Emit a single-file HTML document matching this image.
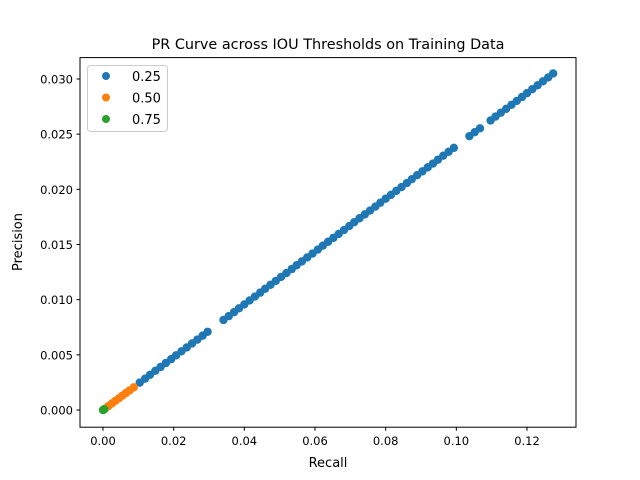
<!DOCTYPE html>
<html><head><meta charset="utf-8"><style>
html,body{margin:0;padding:0;background:#fff;}
svg{display:block;font-family:"DejaVu Sans","Liberation Sans",sans-serif;}
</style></head><body>
<svg id="chart" width="640" height="480" xmlns="http://www.w3.org/2000/svg">
<rect width="640" height="480" fill="#fff"/>
<text x="328" y="49" font-size="14.4" text-anchor="middle">PR Curve across IOU Thresholds on Training Data</text>
<g id="marks"></g>
<rect x="80" y="57.6" width="496" height="369.6" fill="none" stroke="#000" stroke-width="1"/>
<g id="xticks"></g><g id="yticks"></g>
<text x="328" y="467" font-size="13" text-anchor="middle">Recall</text>
<text transform="translate(22,242) rotate(-90)" font-size="13" text-anchor="middle">Precision</text>
<g>
<rect x="87.5" y="65.5" width="80" height="66" rx="3" fill="#fff" fill-opacity="0.8" stroke="#ccc"/>
<circle cx="106" cy="76" r="4" fill="#1f77b4"/><text x="132" y="81" font-size="13">0.25</text>
<circle cx="106" cy="97.5" r="4" fill="#ff7f0e"/><text x="132" y="102.5" font-size="13">0.50</text>
<circle cx="106" cy="119" r="4" fill="#2ca02c"/><text x="132" y="124" font-size="13">0.75</text>
</g>
</svg>
<script>
const xTicks=[0,0.02,0.04,0.06,0.08,0.10,0.12];
const xTickLabels=["0.00","0.02","0.04","0.06","0.08","0.10","0.12"];
const yTicks=[0,0.005,0.010,0.015,0.020,0.025,0.030];
const yTickLabels=["0.000","0.005","0.010","0.015","0.020","0.025","0.030"];
const recall25=[0.0104,0.0119,0.0133,0.0148,0.0163,0.0178,0.0193,0.0207,0.0222,0.0237,0.0252,0.0267,0.0282,0.0296,
0.0341,0.0356,0.0371,0.0385,0.0400,0.0415,0.0430,0.0445,0.0459,0.0474,0.0489,0.0504,0.0519,0.0534,0.0548,0.0563,0.0578,0.0593,0.0608,0.0622,0.0637,0.0652,0.0667,0.0682,0.0697,0.0711,0.0726,0.0741,0.0756,0.0771,0.0785,0.0800,0.0815,0.0830,0.0845,0.0860,0.0874,0.0889,0.0904,0.0919,0.0934,0.0948,0.0963,0.0978,0.0993,
0.1037,0.1052,0.1067,
0.1097,0.1111,0.1126,0.1141,0.1156,0.1171,0.1186,0.1200,0.1215,0.1230,0.1245,0.1260,0.1274];
const precision25=[0.00248,0.00284,0.00319,0.00355,0.00390,0.00426,0.00461,0.00496,0.00532,0.00567,0.00603,0.00638,0.00674,0.00709,
0.00816,0.00851,0.00887,0.00922,0.00957,0.00993,0.01028,0.01064,0.01099,0.01135,0.01170,0.01206,0.01241,0.01277,0.01312,0.01347,0.01383,0.01418,0.01454,0.01489,0.01525,0.01560,0.01596,0.01631,0.01667,0.01702,0.01738,0.01773,0.01808,0.01844,0.01879,0.01915,0.01950,0.01986,0.02021,0.02057,0.02092,0.02128,0.02163,0.02199,0.02234,0.02269,0.02305,0.02340,0.02376,
0.02482,0.02518,0.02553,
0.02624,0.02660,0.02695,0.02730,0.02766,0.02801,0.02837,0.02872,0.02908,0.02943,0.02979,0.03014,0.03050];
const recall50=[0.0005,0.0015,0.0025,0.0035,0.0045,0.0055,0.0065,0.0075,0.0087];
const precision50=[0.00012,0.00035,0.00059,0.00083,0.00106,0.00130,0.00154,0.00177,0.00205];
const recall75=[0,0.0002,0.0004];
const precision75=[0,0.00003,0.00006];

const NS="http://www.w3.org/2000/svg";
const X0=103,PX=(527-103)/0.12;
const Y0=410,PY=(410-79)/0.030;
function sx(v){return X0+v*PX;}
function sy(v){return Y0-v*PY;}
const marks=document.getElementById('marks');
function series(xs,ys,color,name){
  const g=document.createElementNS(NS,'g');
  
  
  for(let i=0;i<xs.length;i++){
    const c=document.createElementNS(NS,'circle');
    
    
    c.setAttribute('cx',sx(xs[i]));c.setAttribute('cy',sy(ys[i]));
    c.setAttribute('r',4.2);c.setAttribute('fill',color);
    g.appendChild(c);
  }
  marks.appendChild(g);
}
series(recall25,precision25,'#1f77b4','series-0.25');
series(recall50,precision50,'#ff7f0e','series-0.50');
series(recall75,precision75,'#2ca02c','series-0.75');
const xt=document.getElementById('xticks');
xTicks.forEach((v,i)=>{
  const l=document.createElementNS(NS,'line');
  
  
  l.setAttribute('x1',sx(v));l.setAttribute('x2',sx(v));l.setAttribute('y1',427.2);l.setAttribute('y2',430.7);l.setAttribute('stroke','#000');
  xt.appendChild(l);
  const t=document.createElementNS(NS,'text');
  
  
  t.setAttribute('x',sx(v));t.setAttribute('y',445);t.setAttribute('font-size','11.5');t.setAttribute('text-anchor','middle');
  t.textContent=xTickLabels[i];xt.appendChild(t);
});
const yt=document.getElementById('yticks');
yTicks.forEach((v,i)=>{
  const l=document.createElementNS(NS,'line');
  
  
  l.setAttribute('x1',76.5);l.setAttribute('x2',80);l.setAttribute('y1',sy(v));l.setAttribute('y2',sy(v));l.setAttribute('stroke','#000');
  yt.appendChild(l);
  const t=document.createElementNS(NS,'text');
  
  
  t.setAttribute('x',73);t.setAttribute('y',sy(v)+4.5);t.setAttribute('font-size','11.5');t.setAttribute('text-anchor','end');
  t.textContent=yTickLabels[i];yt.appendChild(t);
});
</script>
</body></html>
